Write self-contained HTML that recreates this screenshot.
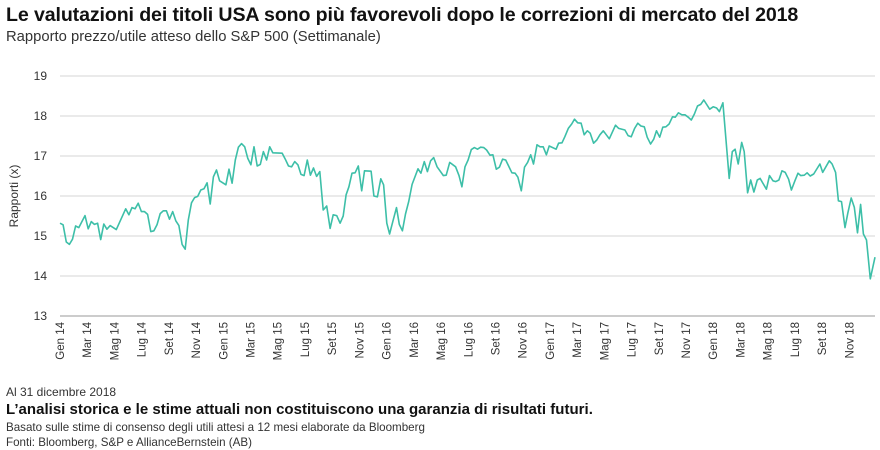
<!DOCTYPE html>
<html><head><meta charset="utf-8">
<style>
body{margin:0;background:#fff;width:880px;height:450px;overflow:hidden;font-family:"Liberation Sans",sans-serif;}
.t{position:absolute;left:6px;top:4px;font-size:19.6px;font-weight:bold;color:#111;letter-spacing:-0.12px;white-space:nowrap}
.s{position:absolute;left:6px;top:29px;font-size:14.8px;color:#333;white-space:nowrap}
.f{position:absolute;left:6px;color:#333;font-size:12px;white-space:nowrap}
</style></head><body>
<div class="t">Le valutazioni dei titoli USA sono più favorevoli dopo le correzioni di mercato del 2018</div>
<div class="s">Rapporto prezzo/utile atteso dello S&amp;P 500 (Settimanale)</div>
<svg id="chart" width="880" height="450" style="position:absolute;left:0;top:0"></svg>
<div class="f" style="top:385px">Al 31 dicembre 2018</div>
<div class="f" style="top:401px;font-size:15px;font-weight:bold;color:#111;letter-spacing:0.02px">L’analisi storica e le stime attuali non costituiscono una garanzia di risultati futuri.</div>
<div class="f" style="top:421px;font-size:11.6px">Basato sulle stime di consenso degli utili attesi a 12 mesi elaborate da Bloomberg</div>
<div class="f" style="top:436px;font-size:11.6px">Fonti: Bloomberg, S&amp;P e AllianceBernstein (AB)</div>
<script>
const yTicks=[13,14,15,16,17,18,19];
const xTickLabels=["Gen 14","Mar 14","Mag 14","Lug 14","Set 14","Nov 14","Gen 15","Mar 15","Mag 15","Lug 15","Set 15","Nov 15","Gen 16","Mar 16","Mag 16","Lug 16","Set 16","Nov 16","Gen 17","Mar 17","Mag 17","Lug 17","Set 17","Nov 17","Gen 18","Mar 18","Mag 18","Lug 18","Set 18","Nov 18"];
const weeks=[0,1,2,3,4,5,6,8,9,10,11,12,13,14,15,16,18,21,22,23,24,25,26,27,28,29,30,31,32,33,34,35,36,37,38,39,40,41,42,43,44,45,46,47,48,49,50,51,53,54,55,56,57,58,59,60,61,62,63,64,65,66,67,68,71,72,73,74,75,76,77,78,79,80,81,82,83,
84.1,85.2,86.3,87.3,88.4,89.5,90.5,91.4,92.3,93.3,94.3,95.3,96.4,97.3,99.4,100.3,101.4,102.5,103.4,104.4,105.3,106.4,107.5,108.4,109.4,110.4,111.4,112.5,114.4,115.3,116.4,117.4,118.4,119.4,120.5,122.5,123.4,124.5,126.4,127.5,128.4,129.4,130.4,131.4,132.4,133.4,134.4,135.4,136.3,137.4,138.3,139.4,140.4,141.4,142.4,144.4,145.4,146.3,147.4,148.4,149.4,150.4,151.3,152.4,153.4,154.4,155.4,156.3,158.5,159.3,160.4,161.3,162.4,163.5,164.4,165.4,166.5,167.5,168.5,169.4,170.5,171.5,172.5,
173.6,175.5,177.5,178.5,180.5,181.5,182.5,183.6,184.6,185.6,186.7,187.6,188.7,189.7,190.6,191.6,192.6,193.6,194.6,195.7,196.6,197.6,198.7,199.7,200.7,201.7,202.7,203.7,204.7,205.7,207.6,208.7,209.8,210.7,211.8,213.8,214.8,215.7,216.7,217.8,218.6,219.7,220.7,221.7,222.8,223.7,225.7,226.7,227.8,228.7,229.7,230.7,231.7,232.8,233.7,234.8,235.8,236.7,237.8,238.7,239.7,240.8,242.8,243.7,245.8,246.7,247.8,248.7,249.7,250.8,251.7,252.8,253.8,254.8,255.8,256.7,257.7,258.9,260.4];
const peRatio=[15.32,15.28,14.85,14.79,14.92,15.25,15.21,15.51,15.18,15.36,15.29,15.32,14.91,15.30,15.17,15.26,15.16,15.68,15.53,15.71,15.68,15.82,15.61,15.61,15.54,15.11,15.13,15.28,15.56,15.63,15.63,15.42,15.61,15.38,15.26,14.79,14.67,15.40,15.83,15.96,15.99,16.15,16.18,16.33,15.80,16.48,16.65,16.38,16.28,16.67,16.32,16.90,17.22,17.31,17.23,16.94,16.78,17.23,16.75,16.79,17.11,16.90,17.23,17.08,17.07,16.92,16.75,16.73,16.86,16.78,16.54,16.51,16.90,16.52,16.70,16.49,16.61,
15.65,15.75,15.19,15.53,15.51,15.32,15.50,16.03,16.23,16.57,16.58,16.75,16.13,16.63,16.62,16.00,15.98,16.43,16.28,15.32,15.05,15.38,15.71,15.29,15.13,15.55,15.86,16.29,16.68,16.57,16.86,16.61,16.88,16.96,16.73,16.51,16.52,16.84,16.73,16.51,16.23,16.73,16.90,17.16,17.21,17.17,17.22,17.21,17.15,17.02,17.03,16.67,16.72,16.92,16.90,16.58,16.57,16.47,16.13,16.72,16.84,17.03,16.80,17.28,17.23,17.23,17.03,17.25,17.17,17.32,17.33,17.48,17.69,17.80,17.92,17.83,17.82,17.53,17.63,17.57,17.32,17.40,17.53,
17.63,17.43,17.77,17.69,17.65,17.51,17.48,17.69,17.82,17.75,17.73,17.47,17.30,17.42,17.63,17.47,17.72,17.73,17.80,17.98,17.97,18.08,18.03,18.03,17.97,17.90,18.05,18.25,18.29,18.40,18.17,18.23,18.20,18.11,18.33,16.44,17.11,17.17,16.80,17.34,17.11,16.08,16.40,16.10,16.40,16.44,16.17,16.51,16.38,16.36,16.40,16.63,16.59,16.42,16.15,16.38,16.57,16.51,16.52,16.58,16.50,16.55,16.80,16.59,16.88,16.80,16.59,15.88,15.86,15.21,15.57,15.95,15.72,15.08,15.79,15.05,14.90,13.93,14.47];
const NS="http://www.w3.org/2000/svg";
const svg=document.getElementById('chart');
const X0=60,X1=875,Y0=316,Y1=76,WMAX=260.4;
const xs=w=>X0+w*(X1-X0)/WMAX;
const ys=v=>Y0-(v-13)*(Y0-Y1)/6;
function mk(t,a){const e=document.createElementNS(NS,t);for(const k in a)e.setAttribute(k,a[k]);svg.appendChild(e);return e;}
yTicks.forEach(v=>{
  const l=mk('line',{x1:X0,x2:X1,y1:ys(v),y2:ys(v),stroke:v===13?'#bbb':'#d6d6d6','stroke-width':v===13?1.5:1});
  
  
  const t=mk('text',{x:47,y:ys(v)+4,'text-anchor':'end','font-size':12,fill:'#333'});
  t.textContent=v;
  
  
});
xTickLabels.forEach((s,i)=>{
  const x=xs(i*8.696)+4;
  const t=mk('text',{x:0,y:0,transform:`translate(${x},322) rotate(-90)`,'text-anchor':'end','font-size':11.5,fill:'#333'});
  t.textContent=s;
  
  
});
const yt=mk('text',{x:0,y:0,transform:'translate(18,196) rotate(-90)','text-anchor':'middle','font-size':12,fill:'#333'});
yt.textContent='Rapporti (x)';


const p=mk('path',{d:weeks.map((w,i)=>(i?'L':'M')+xs(w).toFixed(1)+','+ys(peRatio[i]).toFixed(1)).join(''),fill:'none',stroke:'#3dbfa8','stroke-width':1.6,'stroke-linejoin':'round'});


</script>
</body></html>
